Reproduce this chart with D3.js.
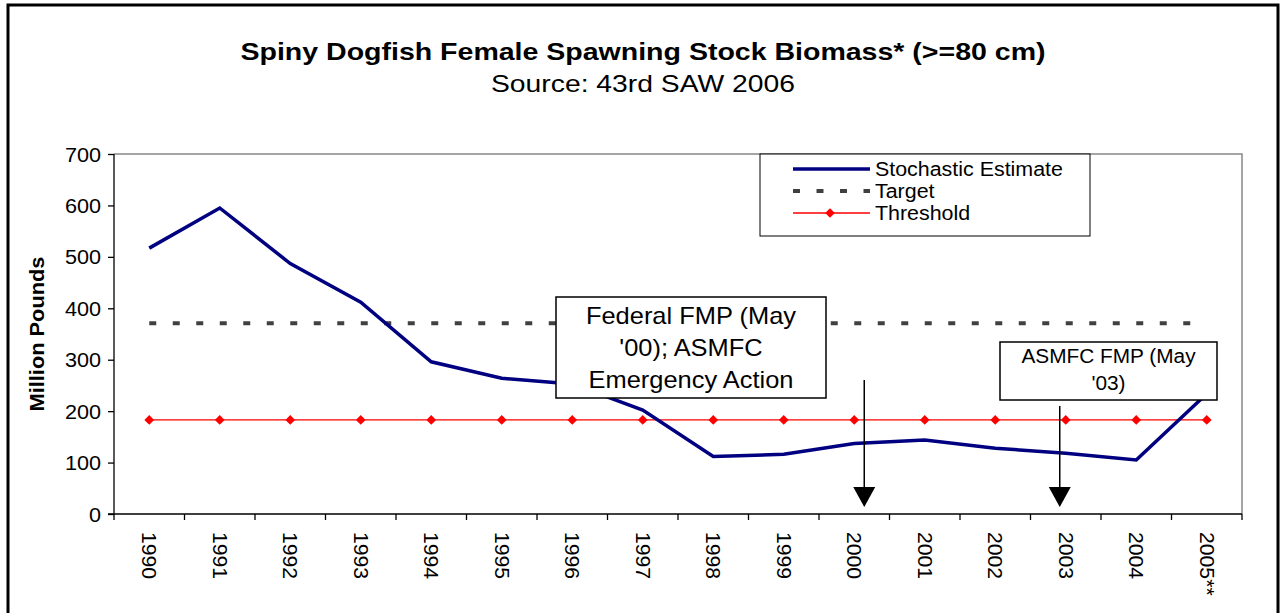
<!DOCTYPE html>
<html>
<head>
<meta charset="utf-8">
<script src="https://cdn.jsdelivr.net/npm/d3@7"></script>
<style>
  body { margin: 0; background: #fff; }
  text { font-family: "Liberation Sans", Arial, sans-serif; }
</style>
</head>
<body>
<svg id="chart"></svg>
<script>
// Data
const years = ["1990","1991","1992","1993","1994","1995","1996","1997","1998","1999","2000","2001","2002","2003","2004","2005**"];
const stochastic = [517, 595, 487, 412, 296, 264, 253, 202, 112, 116, 137, 144, 128, 118, 105, 234];
const target = [371, 371, 371, 371, 371, 371, 371, 371, 371, 371, 371, 371, 371, 371, 371, 371];
const threshold = [183, 183, 183, 183, 183, 183, 183, 183, 183, 183, 183, 183, 183, 183, 183, 183];
const yTicks = [0, 100, 200, 300, 400, 500, 600, 700];

(() => {
    const width = 1281;
    const height = 613;
    const margin = { left: 114, right: 39, top: 154, bottom: 99 };

    const svg = d3.select("#chart")
        .attr("width", width)
        .attr("height", height);

    // stretch text horizontally like the original export
    function stretch(sel, f) {
        sel.each(function () {
            const w = this.getComputedTextLength();
            d3.select(this).attr("textLength", w * f).attr("lengthAdjust", "spacingAndGlyphs");
        });
    }

    // outer frame
    svg.append("rect")
        .attr("x", 8).attr("y", 5)
        .attr("width", 1270).attr("height", 640)
        .attr("fill", "none")
        .attr("stroke", "#000")
        .attr("stroke-width", 3);

    // titles
    svg.append("text")
        .attr("x", 643).attr("y", 60)
        .attr("text-anchor", "middle")
        .attr("font-size", 24).attr("font-weight", "bold")
        .attr("textLength", 805).attr("lengthAdjust", "spacingAndGlyphs")
        .text("Spiny Dogfish Female Spawning Stock Biomass* (>=80 cm)");
    svg.append("text")
        .attr("x", 643).attr("y", 92)
        .attr("text-anchor", "middle")
        .attr("font-size", 24)
        .attr("textLength", 304).attr("lengthAdjust", "spacingAndGlyphs")
        .text("Source: 43rd SAW 2006");

    const x = d3.scaleBand()
        .domain(years)
        .range([margin.left, width - margin.right]);

    const y = d3.scaleLinear()
        .domain([0, 700])
        .range([height - margin.bottom, margin.top]);

    const cx = d => x(d) + x.bandwidth() / 2;

    // plot top/right border
    svg.append("path")
        .attr("d", `M${margin.left},${margin.top}H${width - margin.right}V${height - margin.bottom}`)
        .attr("fill", "none")
        .attr("stroke", "#888")
        .attr("stroke-width", 1.5);

    // y axis
    const yAxis = svg.append("g")
        .attr("transform", `translate(${margin.left},0)`)
        .call(d3.axisLeft(y).tickValues(yTicks).tickSize(6).tickPadding(7));
    yAxis.selectAll("text").attr("font-size", 20).attr("fill", "#000")
        .attr("dy", "0.35em")
        .attr("font-family", "Liberation Sans, Arial, sans-serif");
    stretch(yAxis.selectAll("text"), 1.08);
    yAxis.selectAll("line,path").attr("stroke", "#000").attr("stroke-width", 1.3);
    yAxis.select(".domain").attr("d", `M0,${y(0)}V${y(700)}`);

    svg.append("text")
        .attr("transform", `translate(44,${(y(0) + y(700)) / 2}) rotate(-90)`)
        .attr("text-anchor", "middle")
        .attr("font-size", 20).attr("font-weight", "bold")
        .attr("textLength", 155).attr("lengthAdjust", "spacingAndGlyphs")
        .text("Million Pounds");

    // x axis (ticks between categories)
    const xg = svg.append("g").attr("transform", `translate(0,${y(0)})`);
    xg.append("line")
        .attr("x1", margin.left - 6).attr("x2", width - margin.right)
        .attr("stroke", "#000").attr("stroke-width", 1.3);
    xg.selectAll(".tk")
        .data(years.concat(["end"]))
        .join("line")
        .attr("x1", (d, i) => i < years.length ? x(d) : x(years[years.length - 1]) + x.bandwidth())
        .attr("x2", (d, i) => i < years.length ? x(d) : x(years[years.length - 1]) + x.bandwidth())
        .attr("y1", 0).attr("y2", 6)
        .attr("stroke", "#000").attr("stroke-width", 1.3);
    const xl = xg.selectAll(".lbl")
        .data(years)
        .join("text")
        .attr("transform", d => `translate(${cx(d) - 7},${18}) rotate(90)`)
        .attr("font-size", 20)
        .text(d => d);
    stretch(xl, 1.06);

    // target
    svg.append("path")
        .datum(target)
        .attr("d", d3.line().x((d, i) => cx(years[i])).y(d => y(d)))
        .attr("fill", "none")
        .attr("stroke", "#404040")
        .attr("stroke-width", 4)
        .attr("stroke-dasharray", "7,16.5");

    // threshold
    svg.append("path")
        .datum(threshold)
        .attr("d", d3.line().x((d, i) => cx(years[i])).y(d => y(d)))
        .attr("fill", "none")
        .attr("stroke", "#ff0000")
        .attr("stroke-width", 1.3);
    svg.selectAll(".thr")
        .data(threshold)
        .join("path")
        .attr("transform", (d, i) => `translate(${cx(years[i])},${y(d)})`)
        .attr("d", d3.symbol(d3.symbolDiamond2, 60))
        .attr("fill", "#ff0000");

    // stochastic estimate
    svg.append("path")
        .datum(stochastic)
        .attr("d", d3.line().x((d, i) => cx(years[i])).y(d => y(d)))
        .attr("fill", "none")
        .attr("stroke", "#000080")
        .attr("stroke-width", 3.5);

    // arrows
    const arrows = [
        { year: "2000", off: 10, top: 380 },
        { year: "2003", off: -6, top: 406 }
    ];
    arrows.forEach(a => {
        const ax = cx(a.year) + a.off;
        svg.append("line")
            .attr("x1", ax).attr("x2", ax)
            .attr("y1", a.top).attr("y2", 490)
            .attr("stroke", "#000").attr("stroke-width", 1.5);
        svg.append("path")
            .attr("d", `M${ax - 11},487L${ax + 11},487L${ax},507Z`)
            .attr("fill", "#000");
    });

    // annotation boxes
    const boxes = [
        { x: 556, y: 297, w: 270, h: 101, size: 24, f: 1.06, lines: ["Federal FMP (May", "'00); ASMFC", "Emergency Action"], first: 324, step: 32 },
        { x: 1000, y: 342, w: 217, h: 58, size: 20, f: 1.04, lines: ["ASMFC FMP (May", "'03)"], first: 363, step: 27 }
    ];
    boxes.forEach(b => {
        svg.append("rect")
            .attr("x", b.x).attr("y", b.y)
            .attr("width", b.w).attr("height", b.h)
            .attr("fill", "#fff").attr("stroke", "#000").attr("stroke-width", 1.5);
        b.lines.forEach((t, i) => {
            const tx = svg.append("text")
                .attr("x", b.x + b.w / 2).attr("y", b.first + i * b.step)
                .attr("text-anchor", "middle")
                .attr("font-size", b.size)
                .text(t);
            stretch(tx, b.f);
        });
    });

    // legend
    const lg = svg.append("g");
    lg.append("rect")
        .attr("x", 760).attr("y", 154)
        .attr("width", 330).attr("height", 82)
        .attr("fill", "#fff").attr("stroke", "#000").attr("stroke-width", 1);
    const items = [
        { name: "Stochastic Estimate", color: "#000080", w: 3.5, dash: null, marker: false },
        { name: "Target", color: "#404040", w: 4, dash: "7,16.5", marker: false },
        { name: "Threshold", color: "#ff0000", w: 1.3, dash: null, marker: true }
    ];
    items.forEach((it, i) => {
        const ly = 169 + i * 22;
        lg.append("line")
            .attr("x1", 793).attr("x2", 870)
            .attr("y1", ly).attr("y2", ly)
            .attr("stroke", it.color).attr("stroke-width", it.w)
            .attr("stroke-dasharray", it.dash);
        if (it.marker) {
            lg.append("path")
                .attr("transform", `translate(830,${ly})`)
                .attr("d", d3.symbol(d3.symbolDiamond2, 60))
                .attr("fill", it.color);
        }
        const tx = lg.append("text")
            .attr("x", 875).attr("y", ly + 7)
            .attr("font-size", 20)
            .text(it.name);
        stretch(tx, 1.07);
    });
})();
</script>
</body>
</html>
